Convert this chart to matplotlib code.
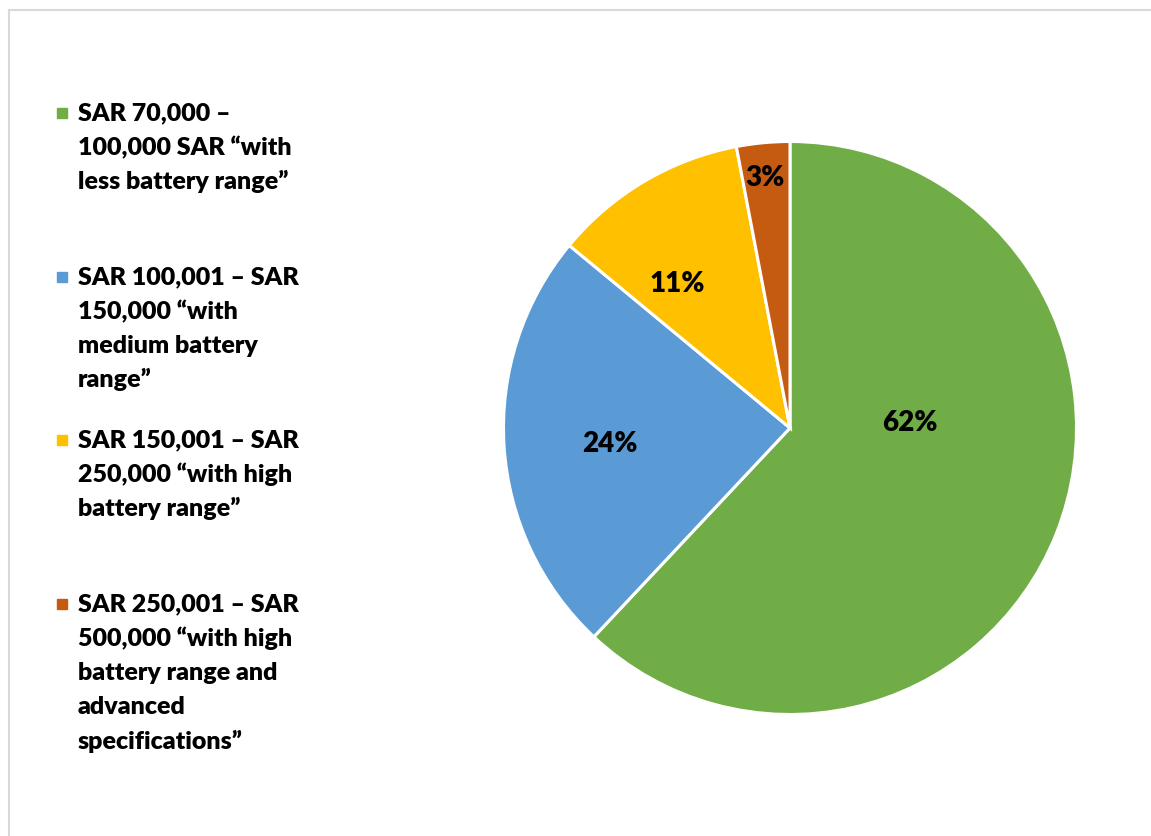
import matplotlib.pyplot as plt
from matplotlib.patches import Rectangle

#=====================================================================
#     Data
#
shares = [62, 24, 11, 3]
colours = ['#70AD47', '#5B9BD5', '#FFC000', '#C55A11']
legend_lines = [
    ['SAR 70,000 \u2013', '100,000 SAR \u201cwith', 'less battery range\u201d'],
    ['SAR 100,001 \u2013 SAR', '150,000 \u201cwith', 'medium battery', 'range\u201d'],
    ['SAR 150,001 \u2013 SAR', '250,000 \u201cwith high', 'battery range\u201d'],
    ['SAR 250,001 \u2013 SAR', '500,000 \u201cwith high', 'battery range and',
     'advanced', 'specifications\u201d'],
]

# where the percentage labels sit (pie radius units)
label_pos = [(0.419, 0.017), (-0.628, -0.056), (-0.394, 0.503), (-0.087, 0.873)]

#=====================================================================
#     Plot
#
W, H = 1151, 836
fig = plt.figure(figsize=(W / 100, H / 100), dpi=100)
plt.rcParams['font.family'] = ['Lato', 'DejaVu Sans']

# light outer frame (only top and left show in the crop)
fig.add_artist(plt.Line2D([9 / W, 9 / W], [0, 1 - 10 / H], transform=fig.transFigure,
                          color='#D9D9D9', lw=1.5))
fig.add_artist(plt.Line2D([9 / W, 1], [1 - 10 / H, 1 - 10 / H], transform=fig.transFigure,
                          color='#D9D9D9', lw=1.5))

cx, cy, r = 790, 428, 286.5
ax = fig.add_axes([(cx - r) / W, (H - cy - r) / H, 2 * r / W, 2 * r / H])
ax.pie(shares, colors=colours, startangle=90, counterclock=False,
       wedgeprops=dict(edgecolor='white', linewidth=2.2))
ax.set_xlim(-1, 1)
ax.set_ylim(-1, 1)
ax.set_aspect('equal')
ax.axis('off')

for v, (x, y) in zip(shares, label_pos):
    ax.text(x, y, '%d%%' % v, ha='center', va='center', fontsize=20,
            fontweight='heavy', color='black')

# legend, entries spread evenly down the left side
tops = [113, 277, 440, 604]
step = 34.3
for lines, c, top in zip(legend_lines, colours, tops):
    fig.add_artist(Rectangle((57 / W, 1 - (top + 5) / H), 10 / W, 10 / H,
                             transform=fig.transFigure, color=c))
    for i, s in enumerate(lines):
        fig.text(78 / W, 1 - (top + i * step) / H, s, ha='left', va='center',
                 fontsize=18, fontweight='heavy', color='black')

fig.savefig('out.png', dpi=100)
